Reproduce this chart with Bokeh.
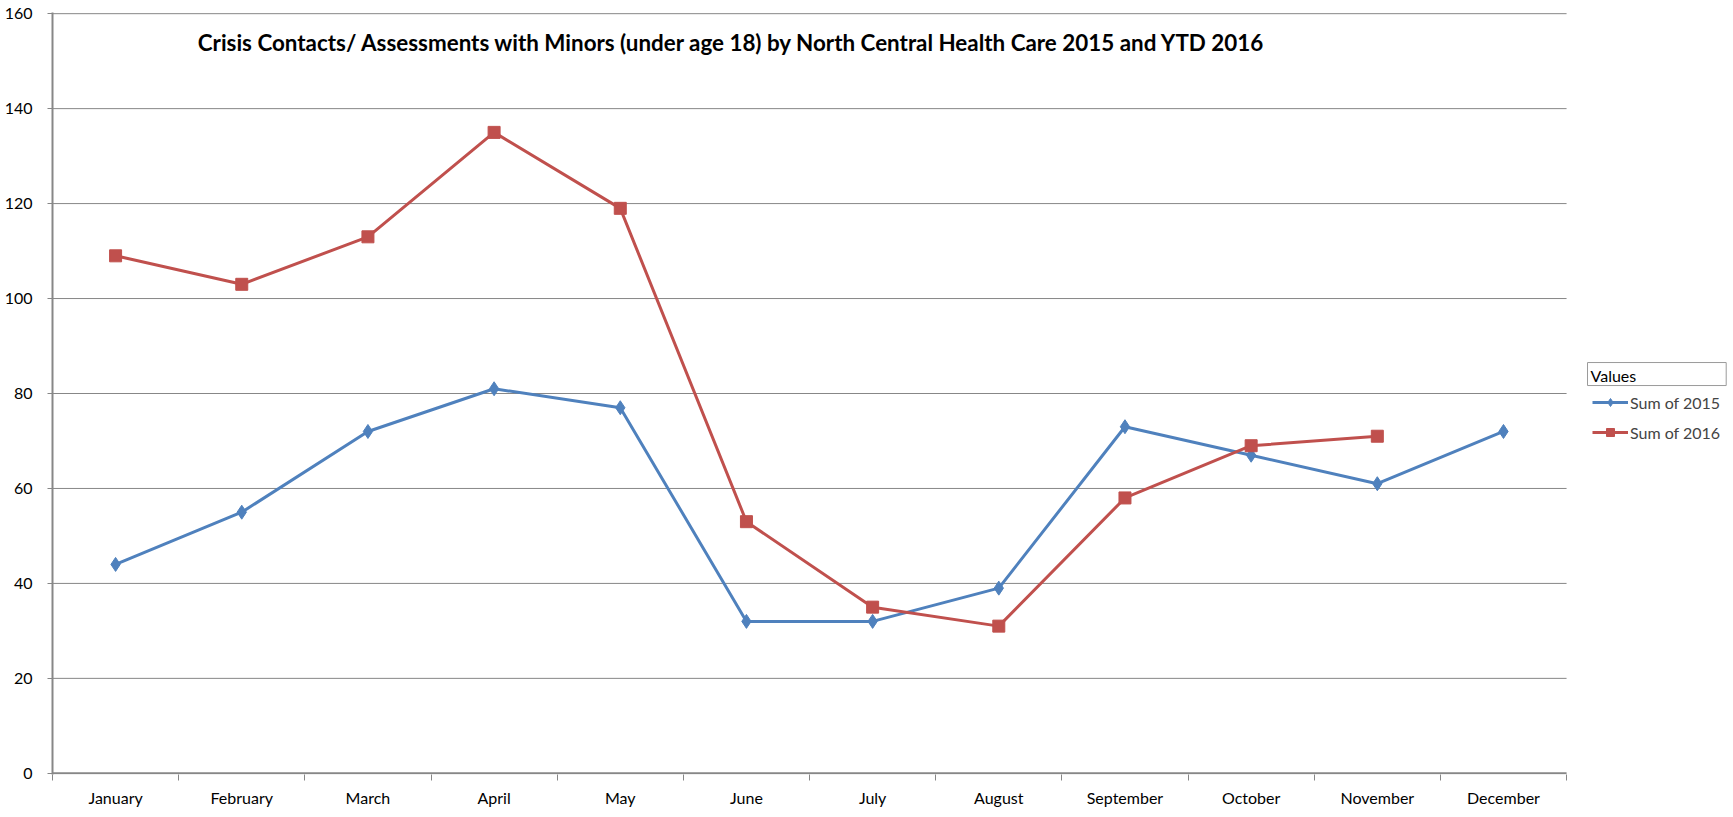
from bokeh.plotting import figure
from bokeh.models import Range1d, FixedTicker, Legend, LegendItem, Label
from bokeh.embed import file_html
from bokeh.resources import INLINE

months = ["January", "February", "March", "April", "May", "June", "July",
          "August", "September", "October", "November", "December"]
sum_2015 = [44, 55, 72, 81, 77, 32, 32, 39, 73, 67, 61, 72]
sum_2016 = [109, 103, 113, 135, 119, 53, 35, 31, 58, 69, 71]
y_ticks = [0, 20, 40, 60, 80, 100, 120, 140, 160]
series_names = ["Sum of 2015", "Sum of 2016"]
legend_title = "Values"
title_text = ("Crisis Contacts/ Assessments with Minors (under age 18) by "
              "North Central Health Care 2015 and YTD 2016")

BLUE = "#4F81BD"
RED = "#C0504D"
GRID = "#878787"
FONT = "Lato"

n_cat = len(months)
x15 = list(range(1, len(sum_2015) + 1))
x16 = list(range(1, len(sum_2016) + 1))
cat_lo, cat_hi = 0.5, n_cat + 0.5
grid_vals = [v for v in y_ticks if v > 0]

p = figure(width=1733, height=817, output_backend="svg", toolbar_location=None,
           x_range=Range1d(cat_lo, 13.823), y_range=Range1d(-0.25, 160.25),
           min_border_left=52, min_border_right=0, min_border_top=12,
           min_border_bottom=43)
p.outline_line_color = None
p.background_fill_color = "white"

# x axis: month labels at centres, tick marks at category boundaries
p.xaxis.ticker = FixedTicker(ticks=x15, minor_ticks=[i + 0.5 for i in range(0, n_cat + 1)])
p.xaxis.major_label_overrides = {i + 1: m for i, m in enumerate(months)}
p.xaxis.major_tick_line_color = None
p.xaxis.major_tick_out = 0
p.xaxis.major_tick_in = 0
p.xaxis.minor_tick_line_color = GRID
p.xaxis.minor_tick_line_width = 1
p.xaxis.minor_tick_out = 6
p.xaxis.minor_tick_in = 0
p.xaxis.axis_line_color = None
p.xaxis.major_label_standoff = 7
p.xaxis.major_label_text_font = FONT
p.xaxis.major_label_text_font_size = "16px"
p.xaxis.major_label_text_color = "black"

p.yaxis.ticker = FixedTicker(ticks=y_ticks, minor_ticks=[])
p.yaxis.major_tick_line_color = GRID
p.yaxis.major_tick_out = 5
p.yaxis.major_tick_in = 0
p.yaxis.axis_line_color = GRID
p.yaxis.axis_line_width = 2
p.yaxis.major_label_standoff = 15
p.yaxis.major_label_text_font = FONT
p.yaxis.major_label_text_font_size = "16px"
p.yaxis.major_label_text_color = "black"

p.xgrid.grid_line_color = None
p.ygrid.grid_line_color = None

# horizontal gridlines and base line, limited to the category span
p.segment(x0=[cat_lo] * len(grid_vals), x1=[cat_hi] * len(grid_vals),
          y0=grid_vals, y1=grid_vals, line_color=GRID, line_width=1)
p.segment(x0=[cat_lo], x1=[cat_hi], y0=[0], y1=[0], line_color=GRID, line_width=2)

# series
l15 = p.line(x15, sum_2015, line_color=BLUE, line_width=3)
m15 = p.scatter(x15, sum_2015, marker="diamond", size=14, fill_color=BLUE, line_color=BLUE)
l16 = p.line(x16, sum_2016, line_color=RED, line_width=3)
m16 = p.scatter(x16, sum_2016, marker="square", size=12, fill_color=RED, line_color=RED)

# title
p.add_layout(Label(x=5.886, y=154.0, text=title_text, text_align="center",
                   text_baseline="middle", text_font=FONT,
                   text_font_style="bold", text_font_size="22.4px", text_color="black"))

# legend header box
p.add_layout(Label(x=12.666, y=84.1,
                   text=legend_title, text_align="left", text_baseline="middle",
                   text_font=FONT, text_font_size="16px", text_color="black",
                   border_line_color="#9a9a9a", border_line_width=1,
                   background_fill_color="white", padding=(3, 90, 3, 1)))

legend = Legend(items=[LegendItem(label=series_names[0], renderers=[l15, m15]),
                       LegendItem(label=series_names[1], renderers=[l16, m16])],
                location=(1540, 332), margin=0, padding=0, spacing=10,
                glyph_width=36, glyph_height=20, label_height=20,
                label_standoff=2, label_text_font=FONT, label_text_font_size="16px",
                border_line_color=None, background_fill_alpha=0)
p.add_layout(legend, "center")

open("out.html", "w").write(file_html(p, INLINE))
